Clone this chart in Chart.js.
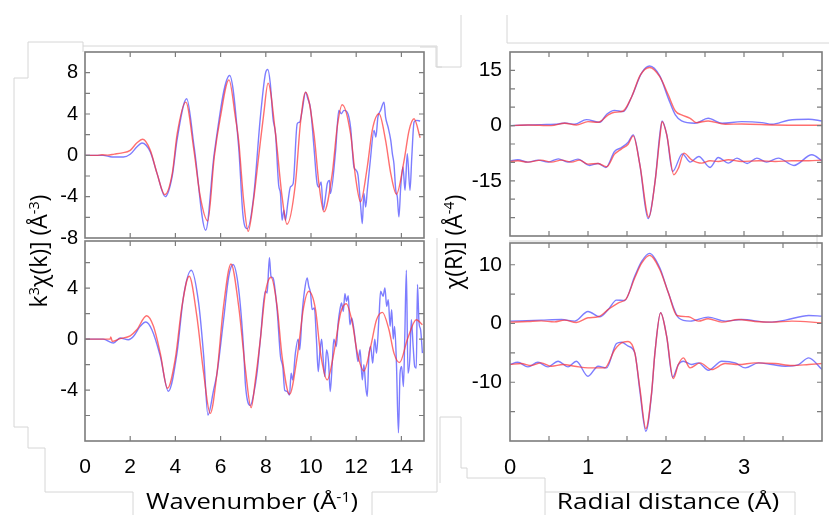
<!DOCTYPE html>
<html>
<head>
<meta charset="utf-8">
<script src="https://cdn.jsdelivr.net/npm/chart.js@4"></script>
<style>
  body { margin: 0; background: #fff; width: 829px; height: 515px; overflow: hidden; position: relative; }
  .panel { position: absolute; }
  .panel canvas { display: block; }
  .ttl { position: absolute; white-space: nowrap; font-family: "Open Sans", sans-serif; color: #000; line-height: 1; }
  .vt { width: 200px; height: 30px; line-height: 30px; text-align: center; transform: rotate(-90deg); }
  .ttl sup { font-size: 0.62em; vertical-align: 0.55em; line-height: 0; }
  svg { position: absolute; left: 0; top: 0; }
</style>
</head>
<body>
<svg width="829" height="515">
  <g fill="none" stroke="#d6d6d6" stroke-width="1">
    <polyline points="83,52 83,42 28,42 28,78 14,78 14,427 28,427 28,448 45,448 45,492 133,492 133,515" />
    <polyline points="83,46 437,46 437,67 442,67" />
    <polyline points="437,238 437,492 372,492 372,515" />
    <polyline points="420,47 436,47 436,67 461,67 461,15" />
    <polyline points="507,15 507,43 829,43" />
    <polyline points="509,241 750,241" />
    <polyline points="817,234 817,248" />
    <polyline points="440,483 440,417 461,417 461,468 467,468 467,478 545,478 545,515" />
    <polyline points="545,492 795,492 795,515" />
  </g>
</svg>

<div class="panel" id="p1"><canvas id="c1"></canvas></div>
<div class="panel" id="p2"><canvas id="c2"></canvas></div>
<div class="panel" id="p3"><canvas id="c3"></canvas></div>
<div class="panel" id="p4"><canvas id="c4"></canvas></div>

<div class="ttl vt" style="left:-62px;top:236px;font-size:23px;">k<sup>3</sup>χ(k)] (Å<sup>-3</sup>)</div>
<div class="ttl vt" style="left:353px;top:227px;font-size:23px;">χ(R)] (Å<sup>-4</sup>)</div>
<div class="ttl" style="left:252px;top:489px;font-size:22px;transform:translateX(-50%) scaleX(1.16);">Wavenumber (Å<sup>-1</sup>)</div>
<div class="ttl" style="left:668px;top:489px;font-size:22px;transform:translateX(-50%) scaleX(1.19);">Radial distance (Å)</div>

<script>
// k-space, upper panel
const kFitTop = [0,0.5,0.75,1.0,1.3,1.6,2.0,2.29,2.56,2.89,3.19,3.53,3.86,4.08,4.46,4.82,5.1,5.43,5.72,5.99,6.37,6.66,6.8,7.02,7.22,7.46,7.69,7.91,8.1,8.43,8.72,8.94,9.31,9.53,9.76,10.13,10.35,10.57,10.94,11.16,11.38,11.75,11.97,12.19,12.49,12.71,13.01,13.3,13.53,13.78,14.12,14.34,14.56,14.83];
const fitTop = [0,0,0.05,0.02,0.12,0.22,0.48,1.19,1.55,0.48,-1.77,-3.8,-1.77,2.1,5.15,0.48,-4.0,-6.35,-0.16,3.7,7.3,3.6,1.4,-4.4,-7.35,-4.3,0,4.03,6.99,2.1,-4.0,-6.67,-2.74,3.06,6.12,2.1,-2.74,-5.47,-1.77,2.74,4.9,2.1,-2.1,-4.5,-1.13,2.42,4.02,1.45,-1.77,-3.77,-0.48,2.42,3.54,1.7];
const kDataTop = [0,0.8,1.2,1.7,2.0,2.29,2.52,2.89,3.19,3.55,3.86,4.08,4.5,4.83,5.34,5.72,6.4,6.8,6.99,7.18,7.46,7.76,7.98,8.09,8.2,8.32,8.43,8.57,8.65,8.72,8.8,8.87,8.97,9.09,9.21,9.39,9.5,9.61,9.76,9.86,9.98,10.13,10.27,10.35,10.45,10.54,10.64,10.72,10.82,10.86,11.09,11.23,11.34,11.46,11.6,11.75,11.9,12.0,12.08,12.2,12.27,12.34,12.42,12.49,12.61,12.79,12.87,12.96,13.08,13.23,13.3,13.41,13.53,13.6,13.67,13.75,13.82,13.89,13.97,14.07,14.16,14.26,14.38,14.46,14.56,14.68,14.83];
const dataTop = [0,0,-0.16,-0.16,0.1,0.8,1.19,0.32,-1.77,-4.0,-2.0,1.6,5.48,0.8,-7.25,0.2,7.73,0.8,-5.8,-7.1,-4.03,3.7,7.89,8.31,6.93,3.54,2.1,-2.9,-3.7,-6.28,-5.3,-6.28,-4.67,-3.06,-2.74,3.06,3.22,4.35,6.12,5.48,4.51,0.81,-2.74,-3.06,-2.58,-5.3,-4.03,-2.74,-2.42,-3.7,0.48,4.35,4.03,4.35,4.19,2.74,-1.13,-1.45,-1.93,-5.0,-6.6,-3.7,-5.0,-3.38,-0.81,2.42,1.77,3.7,4.35,5.15,3.7,2.74,1.45,0.16,-0.81,-3.38,-4.03,-5.96,-3.06,-1.13,-3.38,0.16,-3.38,-0.16,3.22,3.38,3.32];

// k-space, lower panel
const kFitBot = [0,1.11,1.14,1.21,1.55,2.0,2.29,2.73,3.03,3.33,3.65,3.99,4.29,4.61,4.95,5.25,5.54,5.84,6.13,6.46,6.8,7.1,7.35,7.54,7.76,7.98,8.23,8.5,8.72,9.05,9.39,9.68,9.9,10.2,10.42,10.72,11.01,11.31,11.56,11.83,12.05,12.34,12.64,12.9,13.16,13.45,13.67,13.92,14.27,14.66,14.93];
const fitBot = [0,0,0.16,-0.18,0.03,0.26,0.73,1.83,1.0,-1.1,-3.86,-1.6,2.57,4.93,1.78,-2.68,-5.83,-2.68,2.57,5.9,2.57,-2.41,-5.38,-3.2,0,3.62,4.85,2.57,-1.37,-4.33,-1.37,2.57,3.75,2.31,-1.1,-3.2,-1.1,2.05,2.78,1.26,-1.1,-2.5,-0.58,1.52,2.1,0.73,-1.1,-1.84,0,1.52,1.13];
const kDataBot = [0,0.8,1.26,1.55,1.92,2.14,2.44,2.69,2.96,3.33,3.69,4.07,4.36,4.7,5.03,5.25,5.44,5.69,5.84,6.13,6.36,6.55,6.8,7.02,7.1,7.32,7.47,7.61,7.76,7.98,8.06,8.16,8.23,8.32,8.5,8.65,8.75,8.84,8.94,9.05,9.12,9.19,9.31,9.43,9.5,9.61,9.71,9.83,9.9,9.98,10.05,10.15,10.24,10.32,10.39,10.47,10.54,10.61,10.69,10.78,10.85,10.94,11.01,11.12,11.2,11.28,11.35,11.43,11.5,11.57,11.65,11.72,11.8,11.9,11.99,12.08,12.17,12.27,12.34,12.42,12.49,12.56,12.64,12.73,12.82,12.9,13.01,13.08,13.19,13.27,13.35,13.42,13.5,13.57,13.64,13.7,13.78,13.87,13.94,14.01,14.09,14.15,14.22,14.29,14.37,14.44,14.52,14.59,14.66,14.71,14.78,14.85,14.93];
const dataBot = [0,0,-0.31,0.08,-0.05,0.2,1.0,1.34,0.73,-1.34,-4.1,-1.1,3.36,5.4,2.8,-1.3,-5.96,-4.0,-2.7,1.5,4.9,5.85,3.9,-0.84,-3.6,-5.2,-4.25,-2.68,0,3.75,3.62,6.38,4.93,4.8,2.3,-1.37,-2.15,-4.04,-4.1,-4.4,-2.68,-3.2,-1.1,0,-0.84,2.05,3.75,4.8,4.15,3.62,2.31,2.44,0,-2.55,-1.1,0,-1.63,-2.94,-0.84,-1.89,-4.12,-1.89,0,-0.58,1.26,2.31,2.83,2.18,3.57,2.96,3.41,1.13,1.65,0.73,-0.58,-1.76,-0.84,-3.2,-2.02,-3.73,-4.5,-1.37,-0.58,-1.89,0,-1.1,1.78,3.75,3.36,4.01,2.57,3.1,1.0,2.31,0,1.0,-1.89,-7.35,-2.68,-2.15,-3.73,0.21,5.4,-2.68,-1.63,1.52,-0.58,-2.15,-2.28,4.28,1.26,0.73,-1.1];

// R-space, upper panel (magnitude + imaginary part shifted down)
const rMagFitTop = [0,0.23,0.53,0.70,0.85,1.0,1.13,1.26,1.34,1.45,1.56,1.67,1.79,1.92,2.03,2.12,2.2,2.31,2.39,2.54,2.76,2.97,3.4,4.0];
const magFitTop = [0,0.18,0,0.63,0.18,1.08,0.9,2.89,3.61,3.97,7.85,13.7,15.8,13.3,8.3,3.97,2.89,1.99,0.81,1.26,0.36,0.45,0.18,0.09];
const rMagDataTop = [0,0.40,0.62,0.70,0.83,0.98,1.15,1.24,1.34,1.45,1.56,1.69,1.79,1.92,2.03,2.12,2.2,2.37,2.54,2.72,2.97,3.23,3.36,3.57,3.83,4.0];
const magDataTop = [0,0.27,0.45,0.72,0.36,1.62,0.9,3.07,4.15,3.79,7.85,14.4,16.2,13.5,7.4,2.89,1.26,0.63,1.99,0.63,1.08,0.81,0.36,1.44,1.71,1.26];
const rImFitTop = [0,0.10,0.23,0.40,0.53,0.66,0.79,0.89,1.0,1.13,1.24,1.34,1.43,1.515,1.58,1.665,1.78,1.86,1.92,1.95,2.01,2.10,2.16,2.23,2.33,2.46,2.565,2.67,2.8,2.97,3.19,3.4,3.615,3.83,4.0];
const imFitTop = [-9.75,-9.57,-9.93,-9.39,-9.93,-9.39,-9.93,-9.39,-10.47,-10.29,-11.19,-7.76,-6.32,-5.05,-2.8,-10.65,-24.9,-15.16,-3.43,1.08,-2.53,-13.36,-11.55,-7.49,-9.3,-10.2,-9.57,-9.75,-9.3,-9.75,-9.57,-9.75,-9.57,-9.57,-9.39];
const rImDataTop = [0,0.10,0.23,0.36,0.49,0.62,0.74,0.87,1.02,1.13,1.23,1.34,1.43,1.515,1.58,1.665,1.77,1.86,1.92,1.95,2.01,2.085,2.21,2.31,2.42,2.565,2.67,2.8,2.91,3.04,3.165,3.29,3.44,3.64,3.87,4.0];
const imDataTop = [-9.57,-9.3,-9.93,-9.39,-9.93,-9.03,-9.93,-9.12,-10.83,-10.29,-11.37,-7.04,-5.96,-4.51,-2.53,-10.65,-25.27,-15.16,-2.5,1.26,-2.53,-12.45,-7.67,-9.93,-8.39,-11.37,-8.66,-10.2,-8.84,-10.29,-8.84,-9.93,-8.84,-10.83,-7.94,-9.57];

// R-space, lower panel
const rMagFitBot = [0,0.23,0.40,0.57,0.70,0.85,1.0,1.13,1.26,1.39,1.49,1.60,1.69,1.79,1.92,2.03,2.14,2.29,2.415,2.54,2.715,2.93,3.14,3.36,3.615,4.0];
const magFitBot = [0.23,0.34,0.45,0.28,0.57,0.17,0.97,1.14,2.39,3.52,4.2,7.78,10.3,11.59,9.2,5.23,1.36,1.14,0.4,0.8,0.23,0.68,0.34,0.23,0.4,0.11];
const rMagDataBot = [0,0.40,0.66,0.83,1.0,1.15,1.26,1.365,1.47,1.60,1.69,1.79,1.92,2.03,2.16,2.31,2.54,2.76,2.97,3.315,3.53,3.83,4.0];
const magDataBot = [0.4,0.57,0.68,0.4,2.05,1.14,2.39,3.98,3.92,8.07,10.6,11.93,9.49,5.23,0.97,0.4,1.08,0.4,0.68,0.23,0.57,1.36,1.25];
const rImFitBot = [0,0.144,0.27,0.40,0.53,0.68,0.83,1.0,1.215,1.344,1.451,1.515,1.60,1.665,1.742,1.815,1.858,1.931,2.008,2.094,2.158,2.222,2.308,2.437,2.586,2.758,2.929,3.143,3.4,3.615,3.829,4.0];
const imFitBot = [-6.99,-6.82,-7.16,-6.7,-7.27,-6.99,-7.27,-7.56,-7.56,-4.43,-3.18,-3.07,-5.0,-11.0,-17.9,-11.8,-5.0,1.82,-2.16,-9.38,-6.99,-5.85,-7.56,-6.7,-7.84,-6.82,-6.99,-6.7,-6.82,-7.16,-6.99,-6.82];
const rImDataBot = [0,0.10,0.23,0.358,0.487,0.616,0.744,0.85,1.0,1.13,1.237,1.365,1.43,1.515,1.60,1.665,1.742,1.815,1.858,1.931,2.008,2.085,2.158,2.222,2.33,2.415,2.544,2.715,2.886,3.015,3.186,3.358,3.529,3.7,3.829,4.0];
const imDataBot = [-6.99,-6.59,-7.39,-6.59,-7.39,-6.42,-7.39,-6.42,-8.98,-7.27,-7.56,-3.41,-3.18,-3.86,-5.0,-11.5,-18.35,-12.0,-5.0,1.82,-2.16,-9.15,-6.99,-6.42,-6.99,-6.7,-7.95,-6.42,-6.7,-7.56,-6.7,-6.99,-7.27,-6.99,-5.85,-7.84];

const BLUE = 'rgba(70, 70, 255, 0.7)';
const RED = 'rgba(255, 50, 50, 0.7)';
const TICKFONT = '"Liberation Sans", Arial, sans-serif';

function pts(xs, ys) {
    return xs.map((x, i) => ({ x: x, y: ys[i] }));
}

function line(xs, ys, color) {
    return {
        data: pts(xs, ys),
        borderColor: color,
        borderWidth: 1.4,
        pointRadius: 0,
        fill: false,
        cubicInterpolationMode: 'monotone'
    };
}

function isMult(v, m) {
    return Math.abs(v / m - Math.round(v / m)) < 1e-6;
}

// box frame with inward ticks on all four sides
const frame = {
    id: 'frame',
    afterDraw(chart) {
        const { ctx, chartArea: a, scales: { x, y } } = chart;
        ctx.save();
        ctx.strokeStyle = '#7c7c7c';
        ctx.lineWidth = 1.2;
        ctx.beginPath();
        x.ticks.forEach(t => {
            const p = x.getPixelForValue(t.value);
            if (p <= a.left + 1 || p >= a.right - 1) return;
            ctx.moveTo(p, a.bottom); ctx.lineTo(p, a.bottom - 5);
            ctx.moveTo(p, a.top); ctx.lineTo(p, a.top + 5);
        });
        y.ticks.forEach(t => {
            const p = y.getPixelForValue(t.value);
            if (p <= a.top + 1 || p >= a.bottom - 1) return;
            ctx.moveTo(a.left, p); ctx.lineTo(a.left + 5, p);
            ctx.moveTo(a.right, p); ctx.lineTo(a.right - 5, p);
        });
        ctx.stroke();
        ctx.lineWidth = 1.6;
        ctx.strokeRect(a.left, a.top, a.right - a.left, a.bottom - a.top);
        ctx.restore();
    }
};

function panel(n, box, cfg) {
    const yw = 60, pad = 6;
    const xh = cfg.xLabels ? 48 : pad;
    const wrap = document.getElementById('p' + n);
    const canvas = document.getElementById('c' + n);
    const w = box.r - box.l + yw + pad;
    const h = box.b - box.t + pad + xh;
    wrap.style.left = (box.l - yw) + 'px';
    wrap.style.top = (box.t - pad) + 'px';
    canvas.width = w;
    canvas.height = h;

    return new Chart(canvas, {
        type: 'line',
        data: { datasets: cfg.datasets },
        options: {
            responsive: false,
            animation: false,
            layout: { padding: { top: pad, right: pad, left: 0, bottom: 0 } },
            plugins: { legend: { display: false }, tooltip: { enabled: false } },
            scales: {
                x: {
                    type: 'linear', min: cfg.xMin, max: cfg.xMax,
                    grid: { display: false, drawTicks: false },
                    border: { display: false },
                    ticks: {
                        display: !!cfg.xLabels, stepSize: cfg.xStep, includeBounds: false,
                        autoSkip: false, maxRotation: 0, padding: 14, color: '#000',
                        font: { family: TICKFONT, size: cfg.xFont || 21 },
                        callback: cfg.xLabel
                    },
                    afterFit: s => {
                        s.height = xh;
                        s.paddingLeft = 0; s.paddingRight = 0;
                    }
                },
                y: {
                    type: 'linear', min: cfg.yMin, max: cfg.yMax,
                    grid: { display: false, drawTicks: false },
                    border: { display: false },
                    ticks: {
                        stepSize: cfg.yStep, includeBounds: false, autoSkip: false,
                        padding: cfg.yPad || 7, color: '#000',
                        font: { family: TICKFONT, size: cfg.yFont || 20 },
                        callback: cfg.yLabel
                    },
                    afterFit: s => {
                        s.width = yw;
                        s.paddingTop = 0; s.paddingBottom = 0;
                    }
                }
            }
        },
        plugins: [frame]
    });
}

panel(1, { l: 85, t: 52, r: 424, b: 238 }, {
    xMin: 0, xMax: 15, xStep: 2, xLabels: false,
    yMin: -8, yMax: 10, yStep: 2, yFont: 20,
    yLabel: v => isMult(v, 4) ? String(Math.round(v)) : '',
    datasets: [line(kFitTop, fitTop, RED), line(kDataTop, dataTop, BLUE)]
});

panel(2, { l: 85, t: 241, r: 424, b: 441 }, {
    xMin: 0, xMax: 15, xStep: 2, xLabels: true, xFont: 21,
    xLabel: v => isMult(v, 2) ? String(Math.round(v)) : '',
    yMin: -8, yMax: 7.7, yStep: 2, yFont: 20,
    yLabel: v => (isMult(v, 4) && v > -8) ? String(Math.round(v)) : '',
    datasets: [line(kFitBot, fitBot, RED), line(kDataBot, dataBot, BLUE)]
});

panel(3, { l: 510, t: 52, r: 822, b: 236 }, {
    xMin: 0, xMax: 4, xStep: 0.5, xLabels: false,
    yMin: -30, yMax: 20, yStep: 5, yFont: 21, yPad: 8,
    yLabel: v => (isMult(v, 15) && v > -30) ? String(Math.round(v)) : '',
    datasets: [
        line(rMagFitTop, magFitTop, RED), line(rMagDataTop, magDataTop, BLUE),
        line(rImFitTop, imFitTop, RED), line(rImDataTop, imDataTop, BLUE)
    ]
});

panel(4, { l: 510, t: 243, r: 822, b: 441 }, {
    xMin: 0, xMax: 4, xStep: 0.5, xLabels: true, xFont: 22,
    xLabel: v => (isMult(v, 1) && v < 4) ? String(Math.round(v)) : '',
    yMin: -20, yMax: 13.7, yStep: 5, yFont: 21, yPad: 8,
    yLabel: v => (isMult(v, 10) && v > -20) ? String(Math.round(v)) : '',
    datasets: [
        line(rMagFitBot, magFitBot, RED), line(rMagDataBot, magDataBot, BLUE),
        line(rImFitBot, imFitBot, RED), line(rImDataBot, imDataBot, BLUE)
    ]
});
</script>
</body>
</html>
